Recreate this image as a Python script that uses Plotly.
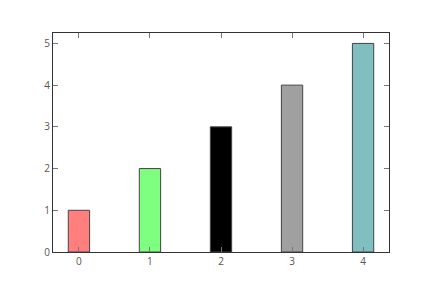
import plotly.graph_objects as go

categories = [0, 1, 2, 3, 4]
values = [1, 2, 3, 4, 5]
colors = ["#ff7f7f", "#7fff7f", "#000000", "#a0a0a0", "#7fbfbf"]
x_ticks = [0, 1, 2, 3, 4]
y_ticks = [0, 1, 2, 3, 4, 5]

fig = go.Figure()
fig.add_trace(go.Bar(
    x=categories, y=values, width=0.3,
    marker=dict(color=colors, line=dict(color="#444444", width=1)),
))

axis_common = dict(
    showline=True, linecolor="#333333", linewidth=1.3, mirror="ticks",
    ticks="inside", tickcolor="#777777", ticklen=5, tickwidth=1,
    showgrid=False, zeroline=False, layer="above traces",
    tickfont=dict(family="Open Sans", size=10, color="#555555"),
)
fig.update_xaxes(range=[-0.365, 4.365], tickvals=x_ticks, **axis_common)
fig.update_yaxes(range=[0, 5.25], tickvals=y_ticks, **axis_common)

fig.update_layout(
    width=432, height=288,
    margin=dict(l=53, r=43, t=33, b=36),
    plot_bgcolor="white", paper_bgcolor="white",
    showlegend=False,
)
fig.write_html("out.html")
